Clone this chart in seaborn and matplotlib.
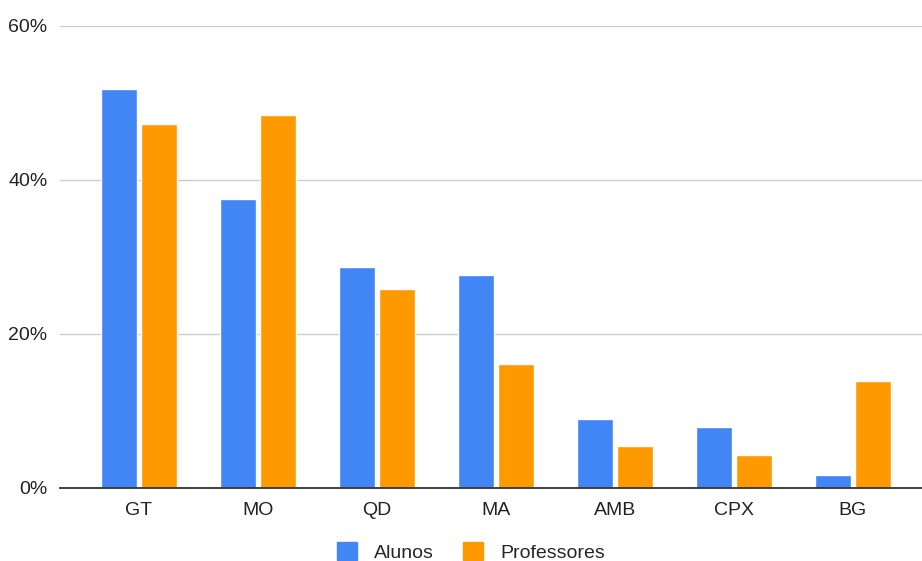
import pandas as pd
import numpy as np
import matplotlib.pyplot as plt
import seaborn as sns
from matplotlib.ticker import PercentFormatter

categories = ['GT', 'MO', 'QD', 'MA', 'AMB', 'CPX', 'BG']
alunos = [51.8, 37.5, 28.7, 27.6, 9.0, 7.9, 1.7]
professores = [47.3, 48.4, 25.9, 16.1, 5.4, 4.3, 13.9]
series_names = ['Alunos', 'Professores']
colors = ['#4285F4', '#FF9900']

df = pd.DataFrame({
    'cat': categories * 2,
    'value': alunos + professores,
    'serie': [series_names[0]] * len(categories) + [series_names[1]] * len(categories),
})

sns.set_style('white')
plt.rcParams['font.family'] = ['Liberation Sans', 'DejaVu Sans']

fig = plt.figure(figsize=(9.22, 5.61), dpi=100)
ax = fig.add_axes([60 / 922, 73 / 561, 862 / 922, 462 / 561])

sns.barplot(data=df, x='cat', y='value', hue='serie', palette=colors,
            width=0.67, gap=0.1, ax=ax, saturation=1, legend=False)

ax.set_ylim(0, 60)
ax.set_xlim(-0.664, 6.58)
ax.set_yticks([0, 20, 40, 60])
ax.yaxis.set_major_formatter(PercentFormatter(decimals=0))
ax.grid(axis='y', color='#cccccc', linewidth=1)
ax.set_axisbelow(True)
for s in ['top', 'right', 'left']:
    ax.spines[s].set_visible(False)
ax.spines['bottom'].set_color('#333333')
ax.spines['bottom'].set_linewidth(1.3)
ax.spines['bottom'].set_zorder(5)
ax.tick_params(axis='both', length=0, labelsize=14, colors='#222222')
ax.tick_params(axis='y', pad=9)
ax.tick_params(axis='x', pad=10)
ax.set_xlabel('')
ax.set_ylabel('')

handles = [plt.Rectangle((0, 0), 1, 1, color=c) for c in colors]
fig.legend(handles, series_names, loc='center', bbox_to_anchor=(471 / 922, 1 - 552 / 561),
           ncol=2, frameon=False, fontsize=14, handlelength=1.0, handleheight=1.0,
           columnspacing=1.5, handletextpad=0.9)

fig.savefig('out.png', dpi=100)
